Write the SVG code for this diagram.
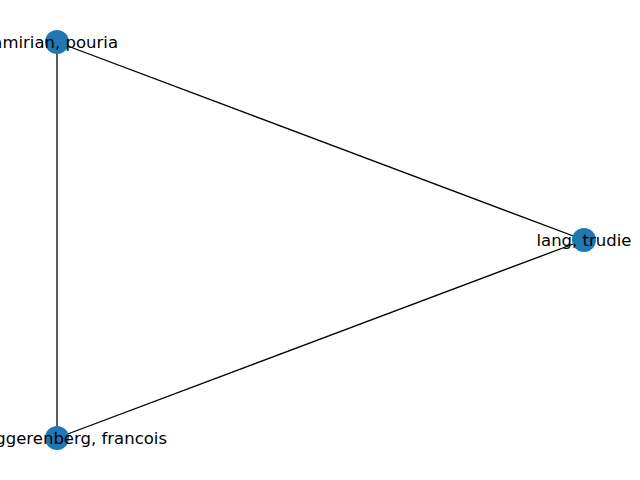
<svg xmlns="http://www.w3.org/2000/svg" width="640" height="480" viewBox="0 0 640 480">
<style>
.edge{stroke:#000;stroke-width:1.3;fill:none}
.node{fill:#1f77b4}
.lbl{font-family:"DejaVu Sans",sans-serif;font-size:16.5px;fill:#000}
</style>
<rect width="640" height="480" fill="#fff"/>
<g id="edges">
<line class="edge" x1="57" y1="42" x2="584" y2="240"/>
<line class="edge" x1="57" y1="42" x2="57" y2="438"/>
<line class="edge" x1="57" y1="438" x2="584" y2="240"/>
</g>
<g id="node-pouria">
<circle class="node" cx="57" cy="42" r="12"/>
<text class="lbl" x="118" y="47.5" text-anchor="end">amirian, pouria</text>
</g>
<g id="node-trudie">
<circle class="node" cx="584" cy="240" r="12"/>
<text class="lbl" x="584" y="245.5" text-anchor="middle">lang, trudie</text>
</g>
<g id="node-francois">
<circle class="node" cx="57" cy="438" r="12"/>
<text class="lbl" x="167" y="443.5" text-anchor="end">ggerenberg, francois</text>
</g>
</svg>
